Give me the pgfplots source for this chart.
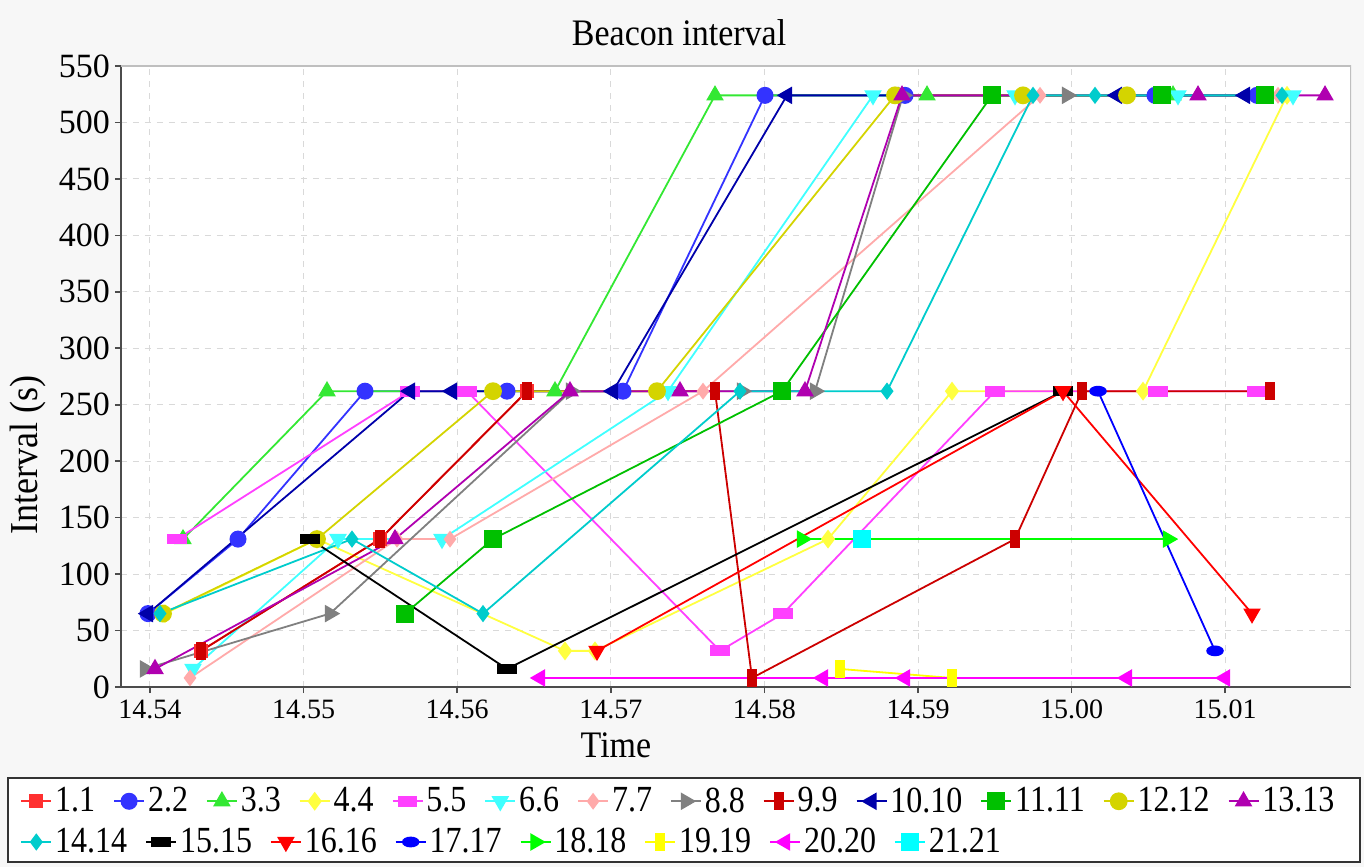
\documentclass[border=0pt]{standalone}
\usepackage{fontspec}
\setmainfont{Liberation Serif}
\usepackage{graphicx}
\usepackage{pgfplots}
\pgfplotsset{compat=1.18}
\definecolor{bgc}{HTML}{F7F7F7}
\definecolor{c1}{HTML}{FF3030}
\definecolor{c2}{HTML}{3333FF}
\definecolor{c3}{HTML}{33E833}
\definecolor{c4}{HTML}{FFFF40}
\definecolor{c5}{HTML}{FF40FF}
\definecolor{c6}{HTML}{40FFFF}
\definecolor{c7}{HTML}{FFAAAA}
\definecolor{c8}{HTML}{808080}
\definecolor{c9}{HTML}{CC0000}
\definecolor{c10}{HTML}{0000AA}
\definecolor{c11}{HTML}{00C000}
\definecolor{c12}{HTML}{D4D400}
\definecolor{c13}{HTML}{B000B0}
\definecolor{c14}{HTML}{00CCCC}
\definecolor{c15}{HTML}{000000}
\definecolor{c16}{HTML}{FF0000}
\definecolor{c17}{HTML}{0000FF}
\definecolor{c18}{HTML}{00FF00}
\definecolor{c19}{HTML}{FFFF00}
\definecolor{c20}{HTML}{FF00FF}
\definecolor{c21}{HTML}{00FFFF}
\newcommand{\tall}[1]{\scalebox{1}[1.15]{#1}}
\pgfplotsset{
  every axis plot/.append style={line width=0.9pt},
  legend image code/.code={\draw[mark repeat=2,mark phase=2,#1] plot coordinates {(0pt,0pt) (7.5pt,0pt) (15pt,0pt)};},
  s1/.style={color=c1, mark=square*, mark size=3pt},
  s2/.style={color=c2, mark=*, mark size=3.8pt},
  s3/.style={color=c3, mark=triangle*, mark size=4.2pt},
  s4/.style={color=c4, mark=diamond*, mark size=4pt},
  s5/.style={color=c5, mark=square*, mark size=3.2pt, mark options={xscale=1.4,yscale=0.7}},
  s6/.style={color=c6, mark=triangle*, mark size=4.2pt, mark options={rotate=180}},
  s7/.style={color=c7, mark=diamond*, mark size=3.5pt},
  s8/.style={color=c8, mark=triangle*, mark size=4.2pt, mark options={rotate=-90}},
  s9/.style={color=c9, mark=square*, mark size=3.2pt, mark options={xscale=0.65,yscale=1.3}},
  s10/.style={color=c10, mark=triangle*, mark size=4.2pt, mark options={rotate=90}},
  s11/.style={color=c11, mark=square*, mark size=4pt},
  s12/.style={color=c12, mark=*, mark size=4pt},
  s13/.style={color=c13, mark=triangle*, mark size=4.2pt},
  s14/.style={color=c14, mark=diamond*, mark size=3.6pt},
  s15/.style={color=c15, mark=square*, mark size=3.2pt, mark options={xscale=1.4,yscale=0.6}},
  s16/.style={color=c16, mark=triangle*, mark size=4.2pt, mark options={rotate=180}},
  s17/.style={color=c17, mark=*, mark size=2.8pt, mark options={xscale=1.4,yscale=0.8}},
  s18/.style={color=c18, mark=triangle*, mark size=4.2pt, mark options={rotate=-90}},
  s19/.style={color=c19, mark=square*, mark size=3.2pt, mark options={xscale=0.65,yscale=1.3}},
  s20/.style={color=c20, mark=triangle*, mark size=4.2pt, mark options={rotate=90}},
  s21/.style={color=c21, mark=square*, mark size=4pt},
  mylegend/.style={legend style={draw=none, fill=none, inner sep=0pt, anchor=west,
      font=\fontsize{16}{18}\selectfont, nodes={inner sep=1.5pt},
      /tikz/every even column/.append style={column sep=7.5pt}},
    legend cell align=left},
}
\begin{document}
\begin{tikzpicture}[x=1pt,y=1pt]
\useasboundingbox (-60.5,-90) rectangle (621.5,343.5);
\fill[bgc] (-60.5,-90) rectangle (621.5,343.5);
\fill[white] (-56.5,-45.5) rectangle (619.5,-87.5);
\begin{axis}[
  at={(0,0)}, anchor=south west,
  scale only axis, width=615pt, height=310.5pt,
  axis background/.style={fill=white},
  xmin=121, xmax=1351, ymin=0, ymax=550,
  axis x line*=bottom, axis y line*=left,
  axis line style={draw=black!70, line width=1pt},
  xtick={150,303.6,457.2,610.8,764.4,918,1071.6,1225.2},
  xticklabels={14.54,14.55,14.56,14.57,14.58,14.59,15.00,15.01},
  ytick={0,50,...,550},
  tick align=outside, major tick length=3pt,
  tick style={black!70, line width=0.8pt},
  grid=major, major grid style={dashed, black!15, line width=0.5pt},
  /pgf/number format/assume math mode=true,
  yticklabel style={font=\fontsize{17}{19}\selectfont, xshift=1pt},
  xticklabel style={font=\fontsize{14}{16}\selectfont},
  title={\scalebox{1}[1.1]{Beacon interval}},
  title style={font=\fontsize{17}{19}\selectfont, at={(0.4537,1)}, anchor=center, yshift=10.5pt},
  xlabel={\scalebox{1}[1.1]{Time}},
  xlabel style={font=\fontsize{17}{19}\selectfont, at={(0.4024,-0.0934)}, anchor=center},
  ylabel={\scalebox{1}[1.1]{Interval (s)}},
  ylabel style={font=\fontsize{18}{20}\selectfont, at={(-0.0756,0.374)}, anchor=center, rotate=0},
  mylegend, legend columns=13,
  legend style={at={(-0.0821,-0.184)}},
]
\draw[black!25, line width=0.8pt] (rel axis cs:0,1) -- (rel axis cs:1,1) -- (rel axis cs:1,0);
\addplot[s1] coordinates {(201,32) (380,131) (527,262)};
\addlegendentry{\tall{1.1}}
\addplot[s2] coordinates {(148,65) (238,131) (365,262) (507,262) (623,262) (765,524) (905,524) (1155,524) (1257,524)};
\addlegendentry{\tall{2.2}}
\addplot[s3] coordinates {(183,131) (327,262) (555,262) (715,524) (927,524) (1173,524)};
\addlegendentry{\tall{3.3}}
\addplot[s4] coordinates {(165,65) (317,131) (565,32) (595,32) (828,131) (952,262) (1143,262) (1287,524)};
\addlegendentry{\tall{4.4}}
\addplot[s5] coordinates {(177,131) (410,262) (467,262) (720,32) (783,65) (995,262) (1158,262) (1257,262)};
\addlegendentry{\tall{5.5}}
\addplot[s6] coordinates {(193,16) (338,131) (442,131) (668,262) (873,524) (1015,524) (1178,524) (1293,524)};
\addlegendentry{\tall{6.6}}
\addplot[s7] coordinates {(190,8) (397,131) (450,131) (703,262) (1040,524) (1278,524)};
\addlegendentry{\tall{7.7}}
\addplot[s8] coordinates {(145,16) (330,65) (571,262) (742,262) (815,262) (903,524) (1067,524)};
\addlegendentry{\tall{8.8}}
\addplot[s9] coordinates {(201,32) (380,131) (527,262) (715,262) (752,8) (1015,131) (1082,262) (1270,262)};
\addlegendentry{\tall{9.9}}
\addplot[s10] coordinates {(148,65) (410,262) (452,262) (613,262) (787,524) (1117,524) (1245,524)};
\addlegendentry{\tall{10.10}}
\addplot[s11] coordinates {(405,65) (493,131) (782,262) (992,524) (1162,524) (1265,524)};
\addlegendentry{\tall{11.11}}
\addplot[s12] coordinates {(163,65) (317,131) (493,262) (657,262) (895,524) (1023,524) (1127,524)};
\addlegendentry{\tall{12.12}}
\addplot[s13] coordinates {(155,16) (395,131) (570,262) (680,262) (805,262) (902,524) (1198,524) (1325,524)};
\addlegendentry{\tall{13.13}}
\addplot[s14, forget plot] coordinates {(160,65) (352,131) (483,65) (740,262) (887,262) (1033,524) (1095,524) (1282,524)};
\addplot[s15, forget plot] coordinates {(310,131) (507,16) (1063,262)};
\addplot[s16, forget plot] coordinates {(597,32) (1063,262) (1252,65)};
\addplot[s17, forget plot] coordinates {(1098,262) (1215,32)};
\addplot[s18, forget plot] coordinates {(802,131) (1168,131)};
\addplot[s19, forget plot] coordinates {(840,16) (952,8)};
\addplot[s20, forget plot] coordinates {(540,8) (823,8) (905,8) (1127,8) (1225,8)};
\addplot[s21, forget plot] coordinates {(862,131)};
\end{axis}
\begin{axis}[
  at={(0,0)}, anchor=south west,
  scale only axis, width=615pt, height=310.5pt,
  xmin=121, xmax=1351, ymin=0, ymax=550, hide axis,
  mylegend, legend columns=8,
  legend style={at={(-0.0821,-0.2496)}},
]
\addlegendimage{s14}\addlegendentry{\tall{14.14}}
\addlegendimage{s15}\addlegendentry{\tall{15.15}}
\addlegendimage{s16}\addlegendentry{\tall{16.16}}
\addlegendimage{s17}\addlegendentry{\tall{17.17}}
\addlegendimage{s18}\addlegendentry{\tall{18.18}}
\addlegendimage{s19}\addlegendentry{\tall{19.19}}
\addlegendimage{s20}\addlegendentry{\tall{20.20}}
\addlegendimage{s21}\addlegendentry{\tall{21.21}}
\end{axis}
\draw[black!80, line width=0.9pt] (-56.5,-45.5) rectangle (619.5,-87.5);
\end{tikzpicture}
\end{document}
